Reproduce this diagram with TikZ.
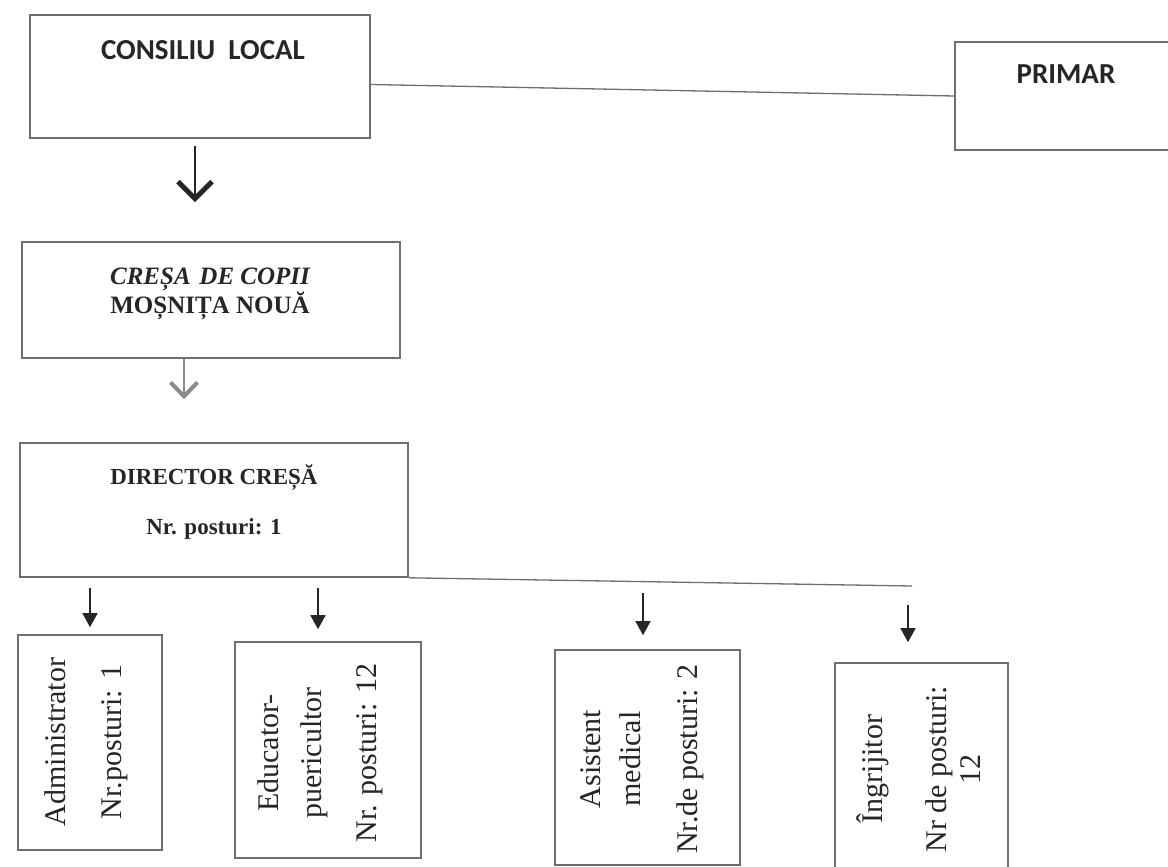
\documentclass[tikz,border=0pt]{standalone}
\usepackage{fontspec}
\setmainfont{Liberation Serif}
\newfontfamily\carlito{Carlito}
\usetikzlibrary{arrows.meta}
\definecolor{boxgray}{HTML}{6E6E6E}
\definecolor{inkdark}{HTML}{262626}
\definecolor{arrgray}{HTML}{8A8A8A}
\begin{document}
\begin{tikzpicture}[x=1pt,y=-1pt,
  box/.style={draw=boxgray, line width=1.6pt, inner sep=0pt},
  conn/.style={draw=boxgray, line width=1.3pt},
  openarr/.style={draw=inkdark, line width=2pt, -{Straight Barb[length=17pt,width=34pt,line width'=5pt]}},
  grayarr/.style={draw=arrgray, line width=1.6pt, -{Straight Barb[length=14pt,width=27pt,line width'=4pt]}},
  fillarr/.style={draw=inkdark, line width=1.5pt, -{Triangle[length=14pt,width=15pt]}},
  toptext/.style={text=inkdark, font=\carlito\bfseries\fontsize{29}{34}\selectfont, inner sep=0pt},
  sertext/.style={text=inkdark, align=center, inner sep=0pt},
  rottext/.style={text=inkdark, align=center, inner sep=0pt, rotate=90, font=\fontsize{30}{40}\selectfont}
]
\clip (0,0) rectangle (1168,867);
\fill[white] (0,0) rectangle (1168,867);

% boxes
\node[box, minimum width=340pt, minimum height=123pt] (consiliu) at (200,76.5) {};
\node[box, minimum width=235pt, minimum height=108pt] (primar) at (1072.5,96) {};
\node[box, minimum width=378pt, minimum height=116pt] (cresa) at (211,300) {};
\node[box, minimum width=388pt, minimum height=134pt] (director) at (214,510) {};
\node[box, minimum width=144pt, minimum height=215pt] (admin) at (90,742.5) {};
\node[box, minimum width=186pt, minimum height=216pt] (edu) at (328,750) {};
\node[box, minimum width=185pt, minimum height=215pt] (asist) at (647.5,757.5) {};
\node[box, minimum width=173pt, minimum height=215pt] (ingr) at (921.5,770.5) {};

% texts
\node[toptext] (consiliuT) at (203,50) {CONSILIU\ \ LOCAL};
\node[toptext] (primarT) at (1066,74) {PRIMAR};
\node[sertext, font=\bfseries] (cresaT) at (210,294)
  {{\fontsize{25}{29}\selectfont\itshape CREȘA\hspace{0.35em}DE COPII}\\{\fontsize{25}{29}\selectfont MOȘNIȚA NOUĂ}};
\node[sertext, font=\bfseries\fontsize{23}{28}\selectfont] (directorT) at (214,502)
  {DIRECTOR CREȘĂ\\[22pt]Nr. posturi: 1};
\node[rottext] (adminT) at (86,742) {Administrator\\[16pt]Nr.posturi: 1};
\node[rottext] (eduT) at (320,753) {Educator-\\[3pt]puericultor\\[15pt]Nr. posturi: 12};
\node[rottext] (asistT) at (642,759) {Asistent\\medical\\[17pt]Nr.de posturi: 2};
\node[rottext] (ingrT) at (919,769) {Îngrijitor\\[24pt]Nr de posturi:\\[-6pt]12};

% connectors
\draw[conn] ([yshift=-8pt]consiliu.east) -- (primar.west);
\draw[openarr] ([shift={(-5pt,-7pt)}]consiliu.south) -- ([shift={(-16pt,39pt)}]cresa.north);
\draw[grayarr] ([xshift=-27pt]cresa.south) -- ([shift={(-30pt,43pt)}]director.north);

\coordinate (barend) at (912,586);
\draw[conn] (director.south east) -- (barend);

\coordinate (a1) at (90,588);
\coordinate (a2) at (318,588);
\coordinate (a3) at (643,593);
\coordinate (a4) at (908,605);
\draw[fillarr, shorten >=7pt] (a1) -- (a1 |- admin.north);
\draw[fillarr, shorten >=12pt] (a2) -- (a2 |- edu.north);
\draw[fillarr, shorten >=14pt] (a3) -- (a3 |- asist.north);
\draw[fillarr, shorten >=20pt] (a4) -- (a4 |- ingr.north);
\end{tikzpicture}
\end{document}
